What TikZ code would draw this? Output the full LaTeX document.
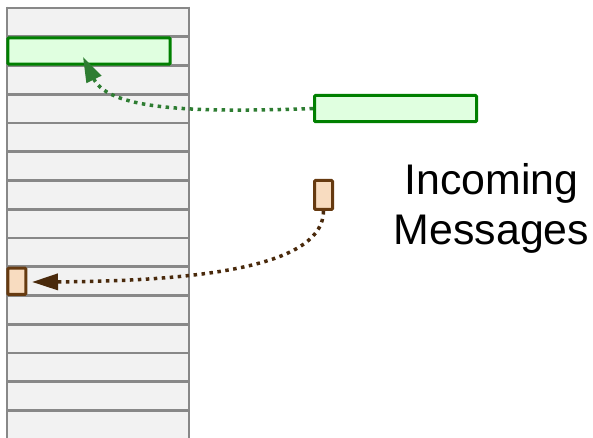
\documentclass[tikz,border=0pt]{standalone}
\usepackage{fontspec}
\setmainfont{Liberation Sans}
\usetikzlibrary{arrows.meta}

\definecolor{rowfill}{RGB}{242,242,242}
\definecolor{rowline}{RGB}{136,136,136}
\definecolor{msgGreen}{RGB}{0,128,0}
\definecolor{msgGreenFill}{RGB}{224,255,224}
\definecolor{arrGreen}{RGB}{46,125,50}
\definecolor{msgBrown}{RGB}{102,58,16}
\definecolor{msgBrownFill}{RGB}{248,220,192}
\definecolor{arrBrown}{RGB}{74,42,12}

\tikzset{
  bigmsg/.style={draw=msgGreen, fill=msgGreenFill, line width=3bp,
    rounded corners=1bp, inner sep=0pt, minimum width=162bp, minimum height=26.3bp},
  smallmsg/.style={draw=msgBrown, fill=msgBrownFill, line width=3bp,
    rounded corners=1bp, inner sep=0pt, minimum width=18bp},
  flow/.style={line width=3.5bp, dash pattern=on 3.5bp off 4.5bp},
  label/.style={font=\fontsize{43}{50}\selectfont, align=center, inner sep=0pt}
}

\begin{document}
\begin{tikzpicture}[x=1bp, y=-1bp]
  \useasboundingbox (0,0) rectangle (593,438);

  % log column with its rows
  \begin{scope}
    \clip (0,0) rectangle (593,438);
    \fill[rowfill] (7,8) rectangle (189,445);
    \foreach \k in {0,...,15}
      \draw[rowline, line width=2.8bp] (7,8+28.75*\k) -- (189,8+28.75*\k);
    \draw[rowline, line width=2.8bp] (7,6.6) -- (7,445);
    \draw[rowline, line width=2.8bp] (189,6.6) -- (189,445);
  \end{scope}

  % messages already placed in the column
  \node[bigmsg] (gslot) at (89,51) {};
  \node[smallmsg, minimum height=26.3bp] (bslot) at (16.8,281.3) {};

  % incoming messages
  \node[bigmsg] (gin) at (395.5,108.6) {};
  \node[smallmsg, minimum height=29bp] (bin) at (323.5,195) {};

  % label; its base anchor sits on the baseline of the last line
  \node[label, anchor=base] (title) at (491.5,244.3) {Incoming\\Messages};

  % arrow end points
  \coordinate (gtip) at (83,57);
  \coordinate (btip) at (32,282);

  \draw[flow, arrGreen, -{Triangle[length=25bp, width=16bp]}]
    (gin.west) .. controls (205,112) and (110,112) .. (gtip);
  \draw[flow, arrBrown, -{Triangle[length=26bp, width=16bp]}]
    (bin.south) .. controls (323,262) and (220,281) .. (btip);
\end{tikzpicture}
\end{document}
